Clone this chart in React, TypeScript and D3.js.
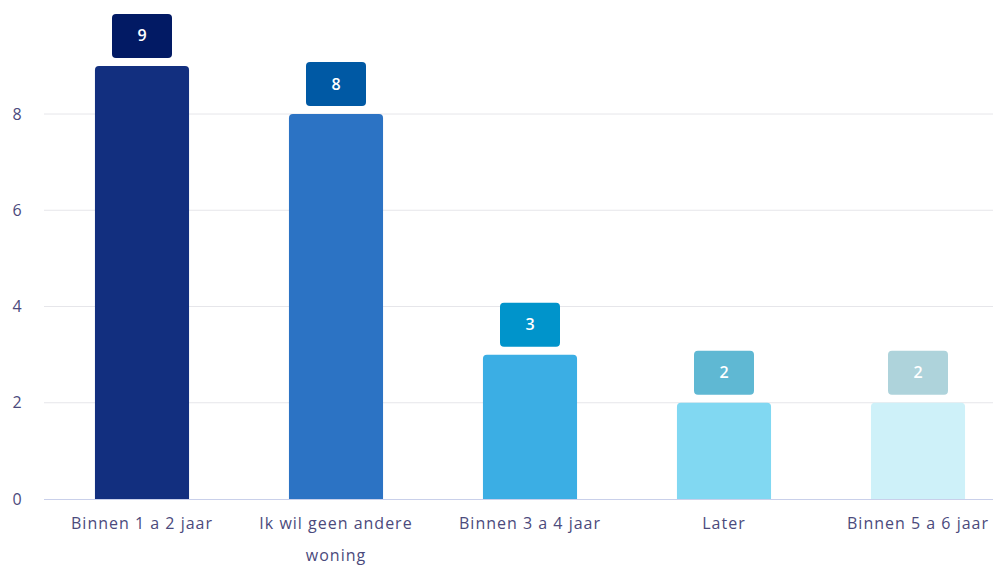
import React from "react";
import * as d3 from "d3";

const categories = ["Binnen 1 a 2 jaar", "Ik wil geen andere woning", "Binnen 3 a 4 jaar", "Later", "Binnen 5 a 6 jaar"];
const values = [9, 8, 3, 2, 2];
const yTicks = [0, 2, 4, 6, 8];
const barColors = ["#122F7F", "#2C73C4", "#3BAEE4", "#81D8F2", "#CEF1F9"];
const labelColors = ["#021A64", "#0059A4", "#0094CB", "#5FB8D3", "#AED3DB"];

const W = 993;
const H = 565;

function wrap(text: string, maxChars: number): string[] {
  const words = text.split(" ");
  const lines: string[] = [];
  let cur = "";
  for (const w of words) {
    const t = cur ? cur + " " + w : w;
    if (t.length > maxChars && cur) {
      lines.push(cur);
      cur = w;
    } else cur = t;
  }
  if (cur) lines.push(cur);
  return lines;
}

function topRounded(x: number, y: number, w: number, h: number, r: number) {
  return `M${x},${y + h}V${y + r}Q${x},${y} ${x + r},${y}H${x + w - r}Q${x + w},${y} ${x + w},${y + r}V${y + h}Z`;
}

export default function App() {
  const x = d3.scaleBand<string>().domain(categories).range([45, 1015]).paddingInner(0.515).paddingOuter(0.2575);
  const y = d3.scaleLinear().domain([0, 8]).range([499, 114]);
  const bw = x.bandwidth();
  const font = "'Open Sans', 'DejaVu Sans', sans-serif";
  const axisColor = "#4B4A7C";

  return (
    <svg width={W} height={H} style={{ position: "absolute", left: 0, top: 0, background: "#fff" }} fontFamily={font}>
      {yTicks.map((t) => (
        <g key={t}>
          {t !== 0 && <line x1={44} x2={993} y1={y(t)} y2={y(t)} stroke="#E6E6EA" strokeWidth={1} />}
          <text x={17} y={y(t)} dy="0.35em" textAnchor="middle" fontSize={16} fill={axisColor}>
            {t}
          </text>
        </g>
      ))}
      {categories.map((c, i) => {
        const bx = x(c)!;
        const by = y(values[i]);
        const cx = bx + bw / 2;
        const boxW = 60;
        const boxH = 44;
        const boxY = by - 8 - boxH;
        return (
          <g key={c}>
            <path d={topRounded(bx, by, bw, y(0) - by, 4)} fill={barColors[i]} />
            <rect x={cx - boxW / 2} y={boxY} width={boxW} height={boxH} rx={4} fill={labelColors[i]} />
            <text x={cx} y={boxY + boxH / 2} dy="0.35em" textAnchor="middle" fontSize={16} fontWeight={600} fill="#fff">
              {values[i]}
            </text>
            {wrap(c, 18).map((line, li) => (
              <text key={li} x={cx} y={523 + li * 32} dy="0.35em" textAnchor="middle" fontSize={16} letterSpacing={1} fill={axisColor}>
                {line}
              </text>
            ))}
          </g>
        );
      })}
      <line x1={44} x2={993} y1={y(0) + 0.5} y2={y(0) + 0.5} stroke="#C9D0EA" strokeWidth={1} />
    </svg>
  );
}
